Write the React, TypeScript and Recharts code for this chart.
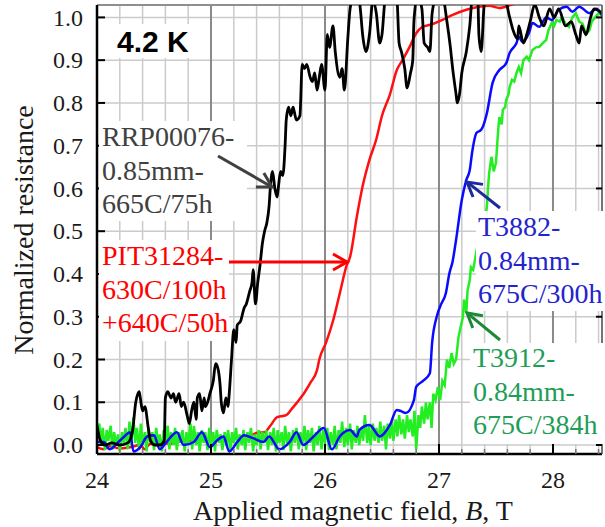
import React from 'react';
import { LineChart, Line, XAxis, YAxis, CartesianGrid, ReferenceLine } from 'recharts';

const SERIF = "'Liberation Serif', 'DejaVu Serif', 'Times New Roman', serif";
const SANS = "'Liberation Sans', Arial, sans-serif";

const X_DOMAIN: [number, number] = [24, 28.43];
const Y_DOMAIN: [number, number] = [-0.021, 1.029];
const X_MAJOR = [24, 25, 26, 27, 28];
const X_MINOR = [24, 24.2, 24.4, 24.6, 24.8, 25, 25.2, 25.4, 25.6, 25.8, 26, 26.2, 26.4, 26.6, 26.8, 27, 27.2, 27.4, 27.6, 27.8, 28, 28.2, 28.4];
const Y_TICKS = [0, 0.1, 0.2, 0.3, 0.4, 0.5, 0.6, 0.7, 0.8, 0.9, 1.0];

// RRP00076-0.85mm-665C/75h  [B (T), normalized R]
const rrp00076: [number, number][] = [
  [24.0, 0.045], [24.03, 0.01], [24.07, 0.0], [24.13, 0.005], [24.2, 0.0], [24.27, 0.005], [24.31, 0.03],
  [24.34, 0.1], [24.37, 0.125], [24.38, 0.11], [24.4, 0.08], [24.42, 0.09], [24.45, 0.04], [24.47, 0.01],
  [24.51, 0.0], [24.55, 0.0], [24.59, 0.01], [24.6, 0.11], [24.62, 0.125], [24.65, 0.11], [24.67, 0.12],
  [24.69, 0.1], [24.72, 0.12], [24.74, 0.09], [24.76, 0.1], [24.79, 0.07], [24.81, 0.05], [24.83, 0.08],
  [24.85, 0.1], [24.87, 0.06], [24.88, 0.11], [24.9, 0.12], [24.92, 0.08], [24.94, 0.11], [24.95, 0.09],
  [24.97, 0.1], [24.99, 0.12], [25.02, 0.15], [25.04, 0.19], [25.06, 0.18], [25.08, 0.14], [25.09, 0.1],
  [25.11, 0.075], [25.13, 0.11], [25.15, 0.09], [25.16, 0.12], [25.18, 0.2], [25.2, 0.27], [25.22, 0.24],
  [25.23, 0.28], [25.26, 0.29], [25.29, 0.32], [25.31, 0.33], [25.34, 0.36], [25.36, 0.38], [25.37, 0.41],
  [25.39, 0.33], [25.41, 0.38], [25.43, 0.42], [25.45, 0.47], [25.47, 0.5], [25.49, 0.52], [25.51, 0.56],
  [25.52, 0.6], [25.54, 0.64], [25.56, 0.6], [25.58, 0.58], [25.59, 0.6], [25.61, 0.64], [25.63, 0.63],
  [25.65, 0.7], [25.66, 0.76], [25.68, 0.79], [25.7, 0.77], [25.72, 0.79], [25.73, 0.78], [25.75, 0.76],
  [25.78, 0.77], [25.8, 0.89], [25.82, 0.88], [25.84, 0.89], [25.87, 0.86], [25.89, 0.85], [25.91, 0.87],
  [25.93, 0.83], [25.95, 0.86], [25.97, 0.89], [26.0, 0.83], [26.02, 0.96], [26.04, 0.93], [26.07, 0.98],
  [26.09, 0.92], [26.13, 0.86], [26.15, 0.88], [26.17, 0.83], [26.2, 0.95], [26.22, 1.02], [26.25, 1.05],
  [26.29, 1.06], [26.31, 1.02], [26.33, 0.96], [26.36, 0.92], [26.39, 0.96], [26.42, 1.04], [26.45, 1.01],
  [26.48, 0.94], [26.5, 0.96], [26.53, 1.05], [26.58, 1.08], [26.63, 1.05], [26.65, 0.94], [26.67, 0.92],
  [26.7, 0.88], [26.72, 0.835], [26.75, 0.87], [26.77, 0.9], [26.78, 0.99], [26.81, 1.05], [26.85, 1.02],
  [26.87, 0.94], [26.9, 0.93], [26.92, 0.92], [26.94, 1.01], [26.98, 1.05], [27.03, 1.05], [27.07, 0.99],
  [27.1, 0.93], [27.12, 0.88], [27.15, 0.82], [27.16, 0.8], [27.18, 0.82], [27.2, 0.87], [27.24, 0.92],
  [27.27, 0.98], [27.29, 1.04], [27.34, 1.05], [27.35, 0.96], [27.37, 0.92], [27.4, 1.04], [27.46, 1.06],
  [27.53, 1.04], [27.57, 1.05], [27.62, 1.0], [27.65, 0.97], [27.69, 0.95], [27.7, 0.98], [27.74, 0.94],
  [27.77, 0.96], [27.8, 0.99], [27.84, 1.03], [27.88, 1.0], [27.92, 0.98], [27.97, 1.02], [28.01, 1.0],
  [28.05, 1.02], [28.11, 0.98], [28.16, 0.99], [28.2, 0.96], [28.23, 0.94], [28.25, 0.98], [28.29, 0.96],
  [28.33, 1.0], [28.36, 1.02], [28.43, 1.01],
];

// PIT31284-630C/100h+640C/50h
const pit31284: [number, number][] = [
  [24.0, -0.005], [24.06, -0.01], [24.11, -0.003], [24.2, -0.008], [24.29, -0.005], [24.38, 0.0],
  [24.42, -0.01], [24.46, 0.002], [24.55, 0.005], [24.64, 0.003], [24.73, 0.008], [24.81, 0.01],
  [24.9, 0.012], [24.99, 0.015], [25.08, 0.012], [25.16, 0.012], [25.25, 0.018], [25.34, 0.022],
  [25.4, 0.028], [25.47, 0.03], [25.52, 0.045], [25.58, 0.065], [25.63, 0.068], [25.66, 0.07],
  [25.71, 0.085], [25.75, 0.098], [25.8, 0.115], [25.87, 0.145], [25.93, 0.175], [25.95, 0.2],
  [26.01, 0.24], [26.07, 0.29], [26.13, 0.355], [26.19, 0.42], [26.22, 0.44], [26.28, 0.535],
  [26.33, 0.605], [26.39, 0.667], [26.45, 0.715], [26.5, 0.77], [26.57, 0.82], [26.63, 0.877],
  [26.68, 0.9], [26.74, 0.93], [26.8, 0.963], [26.85, 0.977], [26.94, 0.984], [27.03, 0.994],
  [27.12, 1.006], [27.24, 1.018], [27.35, 1.025], [27.44, 1.027], [27.53, 1.022], [27.64, 1.03],
  [27.79, 1.04], [28.05, 1.05], [28.43, 1.05],
];

// T3882-0.84mm-675C/300h
const t3882: [number, number][] = [
  [24.0, 0.007], [24.06, 0.007], [24.11, -0.01], [24.18, 0.005], [24.24, 0.02], [24.29, 0.03],
  [24.32, -0.015], [24.38, -0.005], [24.44, 0.02], [24.5, 0.023], [24.55, -0.01], [24.61, 0.007],
  [24.7, 0.03], [24.76, 0.0], [24.85, 0.007], [24.92, 0.03], [24.99, -0.005], [25.05, 0.01],
  [25.11, 0.02], [25.16, -0.015], [25.23, 0.007], [25.29, 0.023], [25.37, 0.016], [25.46, 0.007],
  [25.51, 0.02], [25.6, -0.01], [25.69, 0.007], [25.75, 0.03], [25.81, 0.0], [25.9, 0.02],
  [25.99, 0.04], [26.06, -0.01], [26.13, 0.02], [26.22, 0.035], [26.28, 0.02], [26.3, 0.035],
  [26.39, 0.047], [26.48, 0.02], [26.57, 0.047], [26.63, 0.082], [26.66, 0.08], [26.71, 0.075],
  [26.78, 0.105], [26.8, 0.136], [26.86, 0.15], [26.92, 0.168], [26.94, 0.24], [26.98, 0.3],
  [27.02, 0.33], [27.06, 0.355], [27.09, 0.4], [27.12, 0.43], [27.15, 0.48], [27.2, 0.573],
  [27.24, 0.62], [27.27, 0.643], [27.29, 0.683], [27.33, 0.73], [27.37, 0.737], [27.42, 0.776],
  [27.47, 0.847], [27.53, 0.877], [27.59, 0.893], [27.62, 0.917], [27.68, 0.94], [27.7, 0.955],
  [27.73, 0.943], [27.79, 0.964], [27.82, 0.987], [27.88, 0.978], [27.94, 1.0], [27.99, 0.994],
  [28.05, 1.018], [28.12, 1.025], [28.17, 1.013], [28.23, 1.025], [28.32, 1.01], [28.38, 1.02],
  [28.43, 1.005],
];

// T3912-0.84mm-675C/384h
const t3912: [number, number][] = [
  [24.0, 0.03], [24.02, 0.05], [24.035, 0.0], [24.05, 0.04], [24.07, -0.012], [24.085, 0.035],
  [24.1, 0.01], [24.12, 0.045], [24.135, -0.01], [24.15, 0.03], [24.17, 0.0], [24.185, 0.025],
  [24.2, -0.015], [24.22, 0.03], [24.235, 0.005], [24.25, 0.04], [24.27, -0.01], [24.285, 0.055],
  [24.3, 0.0], [24.32, 0.065], [24.335, 0.005], [24.35, 0.04], [24.37, -0.012], [24.385, 0.05],
  [24.4, 0.0], [24.42, 0.03], [24.435, -0.015], [24.45, 0.035], [24.47, 0.005], [24.485, 0.03],
  [24.5, -0.012], [24.52, 0.04], [24.535, 0.0], [24.55, 0.025], [24.57, -0.015], [24.585, 0.035],
  [24.6, 0.005], [24.62, 0.045], [24.635, -0.01], [24.65, 0.03], [24.67, 0.0], [24.685, 0.04],
  [24.7, -0.012], [24.72, 0.03], [24.735, 0.005], [24.75, 0.035], [24.77, -0.015], [24.785, 0.03],
  [24.8, 0.0], [24.82, 0.05], [24.835, -0.01], [24.85, 0.045], [24.87, 0.0], [24.885, 0.03],
  [24.9, -0.015], [24.92, 0.035], [24.935, 0.005], [24.95, 0.03], [24.97, -0.012], [24.985, 0.04],
  [25.0, 0.0], [25.02, 0.03], [25.035, -0.015], [25.05, 0.035], [25.07, 0.005], [25.085, 0.025],
  [25.1, -0.012], [25.12, 0.03], [25.135, 0.0], [25.15, 0.035], [25.17, -0.015], [25.185, 0.03],
  [25.2, 0.005], [25.22, 0.04], [25.235, -0.01], [25.25, 0.025], [25.27, 0.0], [25.285, 0.035],
  [25.3, -0.012], [25.32, 0.03], [25.335, 0.005], [25.35, 0.04], [25.37, -0.015], [25.385, 0.025],
  [25.4, 0.0], [25.42, 0.035], [25.435, -0.01], [25.45, 0.03], [25.47, 0.005], [25.485, 0.035],
  [25.5, -0.012], [25.52, 0.03], [25.535, 0.0], [25.55, 0.04], [25.57, -0.015], [25.585, 0.035],
  [25.6, 0.005], [25.62, 0.03], [25.635, -0.012], [25.65, 0.045], [25.67, 0.0], [25.685, 0.03],
  [25.7, -0.015], [25.72, 0.035], [25.735, 0.005], [25.75, 0.04], [25.77, -0.01], [25.785, 0.03],
  [25.8, 0.0], [25.82, 0.045], [25.835, -0.012], [25.85, 0.035], [25.87, 0.005], [25.885, 0.04],
  [25.9, -0.015], [25.92, 0.03], [25.935, 0.0], [25.95, 0.045], [25.97, -0.01], [25.985, 0.035],
  [26.0, 0.005], [26.02, 0.04], [26.035, -0.012], [26.05, 0.03], [26.07, 0.0], [26.085, 0.045],
  [26.1, -0.01], [26.12, 0.035], [26.135, 0.005], [26.15, 0.055], [26.17, -0.005], [26.185, 0.04],
  [26.2, 0.0], [26.22, 0.05], [26.235, -0.01], [26.25, 0.035], [26.27, 0.005], [26.285, 0.045],
  [26.3, 0.0], [26.32, 0.04], [26.335, 0.01], [26.35, 0.07], [26.37, 0.005], [26.385, 0.045],
  [26.4, 0.0], [26.42, 0.05], [26.435, 0.01], [26.45, 0.04], [26.47, 0.005], [26.485, 0.055],
  [26.5, 0.01], [26.52, 0.045], [26.535, -0.01], [26.55, 0.05], [26.57, 0.015], [26.585, 0.055],
  [26.6, 0.01], [26.62, 0.06], [26.635, 0.02], [26.65, 0.07], [26.67, 0.025], [26.685, 0.06],
  [26.7, 0.015], [26.72, 0.07], [26.735, 0.03], [26.75, 0.06], [26.77, 0.02], [26.785, 0.08],
  [26.8, -0.01], [26.82, 0.07], [26.835, 0.04], [26.85, 0.09], [26.87, 0.05], [26.885, 0.1],
  [26.9, 0.06], [26.92, 0.1], [26.935, 0.04], [26.95, 0.12], [26.97, 0.105], [26.99, 0.136],
  [27.01, 0.105], [27.03, 0.15], [27.05, 0.14], [27.07, 0.2], [27.09, 0.18], [27.11, 0.215],
  [27.13, 0.19], [27.15, 0.2], [27.17, 0.25], [27.19, 0.276], [27.21, 0.3], [27.22, 0.34],
  [27.24, 0.31], [27.25, 0.36], [27.27, 0.386], [27.28, 0.416], [27.3, 0.41], [27.32, 0.44],
  [27.34, 0.47], [27.36, 0.46], [27.38, 0.5], [27.4, 0.52], [27.42, 0.557], [27.43, 0.6],
  [27.44, 0.636], [27.46, 0.674], [27.48, 0.64], [27.5, 0.66], [27.52, 0.74], [27.53, 0.767],
  [27.55, 0.75], [27.56, 0.784], [27.58, 0.79], [27.59, 0.807], [27.61, 0.82], [27.62, 0.837],
  [27.64, 0.854], [27.66, 0.85], [27.68, 0.87], [27.7, 0.884], [27.72, 0.87], [27.74, 0.9],
  [27.77, 0.908], [27.79, 0.9], [27.82, 0.924], [27.85, 0.93], [27.88, 0.931], [27.91, 0.94],
  [27.94, 0.947], [27.96, 0.97], [27.99, 0.987], [28.01, 0.98], [28.03, 0.994], [28.06, 0.99],
  [28.08, 1.001], [28.11, 0.985], [28.14, 0.978], [28.17, 1.0], [28.2, 1.01], [28.23, 0.99],
  [28.26, 0.985], [28.29, 0.96], [28.32, 0.97], [28.34, 0.99], [28.37, 1.0], [28.4, 1.01], [28.43, 1.005],
];

const rows = (pts: [number, number][]) => pts.map(([b, r]) => ({ b, r }));

const isMajor = (v: number) => X_MAJOR.some((t) => Math.abs(t - v) < 1e-6);

const serifStyle = { fontFamily: SERIF };
const sansStyle = { fontFamily: SANS };

const XTick = (props: any) => {
  const { x, y, payload } = props;
  const v = payload.value as number;
  const major = isMajor(v);
  return (
    <g>
      <line x1={x} x2={x} y1={y} y2={y - (major ? 10 : 5)} stroke={major ? '#000' : '#777'} strokeWidth={major ? 2 : 1.5} />
      {major && (
        <text x={x} y={y + 34} textAnchor="middle" style={serifStyle} fontSize={24} fill="#1a1a1a">
          {String(v)}
        </text>
      )}
    </g>
  );
};

const YTick = (props: any) => {
  const { x, y, payload } = props;
  const v = payload.value as number;
  return (
    <g>
      <line x1={x} x2={x + 8} y1={y} y2={y} stroke="#000" strokeWidth={2} />
      <text x={x - 14} y={y} dy="0.34em" textAnchor="end" style={serifStyle} fontSize={24} fill="#1a1a1a">
        {v.toFixed(1)}
      </text>
    </g>
  );
};

const RTick = (props: any) => {
  const { x, y } = props;
  return <line x1={x} x2={x - 6} y1={y} y2={y} stroke="#000" strokeWidth={2} />;
};

function Arrow({ x1, y1, x2, y2, color }: { x1: number; y1: number; x2: number; y2: number; color: string }) {
  const dx = x2 - x1;
  const dy = y2 - y1;
  const len = Math.hypot(dx, dy);
  const ux = dx / len;
  const uy = dy / len;
  const h = 14;
  const w = 8;
  const bx = x2 - ux * h;
  const by = y2 - uy * h;
  const p1 = `${bx - uy * w},${by + ux * w}`;
  const p2 = `${bx + uy * w},${by - ux * w}`;
  return (
    <g>
      <line x1={x1} y1={y1} x2={x2 - ux * 1.5} y2={y2 - uy * 1.5} stroke={color} strokeWidth={3} />
      <polyline points={`${p1} ${x2},${y2} ${p2}`} fill="none" stroke={color} strokeWidth={3} strokeLinejoin="miter" />
    </g>
  );
}

function TextBlock({ x, y, lines, color, box }: { x: number; y: number; lines: string[]; color: string; box: [number, number, number, number] }) {
  return (
    <g>
      <rect x={box[0]} y={box[1]} width={box[2]} height={box[3]} fill="#fff" />
      {lines.map((l, i) => (
        <text key={i} x={x} y={y + i * 33.5} style={serifStyle} fontSize={28} fill={color}>
          {l}
        </text>
      ))}
    </g>
  );
}

export default function App() {
  return (
    <div style={{ position: 'absolute', left: 0, top: 0, width: 605, height: 527, background: '#fff' }}>
      <LineChart width={605} height={527} margin={{ top: 5, right: 0, bottom: 0, left: 0 }}>
        <CartesianGrid stroke="#cbcbcb" strokeWidth={1.5} />
        {X_MAJOR.slice(1).map((v) => (
          <ReferenceLine key={v} x={v} stroke="#8a8a8a" strokeWidth={2} />
        ))}
        <ReferenceLine y={Y_DOMAIN[1]} stroke="#8f8f8f" strokeWidth={2} />
        <XAxis
          dataKey="b"
          type="number"
          domain={X_DOMAIN}
          ticks={X_MINOR}
          interval={0}
          allowDataOverflow
          height={73}
          tickSize={0}
          tickMargin={0}
          tickLine={false}
          axisLine={{ stroke: '#000', strokeWidth: 2.5 }}
          tick={(p: any) => <XTick {...p} />}
        />
        <YAxis
          type="number"
          domain={Y_DOMAIN}
          ticks={Y_TICKS}
          interval={0}
          allowDataOverflow
          width={97}
          tickSize={0}
          tickMargin={0}
          tickLine={false}
          axisLine={{ stroke: '#000', strokeWidth: 2.5 }}
          tick={(p: any) => <YTick {...p} />}
        />
        <YAxis
          yAxisId="right"
          orientation="right"
          type="number"
          domain={Y_DOMAIN}
          ticks={Y_TICKS}
          interval={0}
          allowDataOverflow
          width={3}
          tickSize={0}
          tickMargin={0}
          tickLine={false}
          axisLine={{ stroke: '#555', strokeWidth: 1.5 }}
          tick={(p: any) => <RTick {...p} />}
        />
        <Line data={rows(pit31284)} dataKey="r" type="monotone" stroke="#ff1010" strokeWidth={2.5} dot={false} isAnimationActive={false} />
        <Line data={rows(t3912)} dataKey="r" type="linear" stroke="#22ee22" strokeWidth={2.5} dot={false} isAnimationActive={false} />
        <Line data={rows(t3882)} dataKey="r" type="monotone" stroke="#0a0aff" strokeWidth={2.5} dot={false} isAnimationActive={false} />
        <Line data={rows(rrp00076)} dataKey="r" type="monotone" stroke="#000000" strokeWidth={2.8} dot={false} isAnimationActive={false} />
      </LineChart>
      <svg width={605} height={527} style={{ position: 'absolute', left: 0, top: 0, pointerEvents: 'none' }}>
        <rect x={108} y={24} width={92} height={34} fill="#fff" />
        <text x={117} y={52} style={sansStyle} fontWeight="bold" fontSize={30} fill="#000">4.2 K</text>

        <TextBlock x={102} y={146} lines={['RRP00076-', '0.85mm-', '665C/75h']} color="#404040" box={[99, 121, 148, 100]} />
        <Arrow x1={218} y1={156} x2={272} y2={187} color="#404040" />

        <TextBlock x={102} y={265} lines={['PIT31284-', '630C/100h', '+640C/50h']} color="#ff0000" box={[99, 240, 130, 101]} />
        <Arrow x1={229} y1={262} x2={347} y2={262} color="#ff0000" />

        <TextBlock x={478} y={236} lines={['T3882-', '0.84mm-', '675C/300h']} color="#2424cc" box={[476, 211, 129, 100]} />
        <Arrow x1={500} y1={208} x2={467} y2={182} color="#1d2a9e" />

        <TextBlock x={473} y={367} lines={['T3912-', '0.84mm-', '675C/384h']} color="#1e9e58" box={[470, 343, 135, 101]} />
        <Arrow x1={500} y1={340} x2={467} y2={313} color="#1a8a34" />

        <text x={33} y={230} transform="rotate(-90 33 230)" textAnchor="middle" style={serifStyle} fontSize={28} fill="#1a1a1a">
          Normalized resistance
        </text>
        <text x={353} y={520} textAnchor="middle" style={serifStyle} fontSize={28} fill="#1a1a1a">
          Applied magnetic field, <tspan fontStyle="italic">B</tspan>, T
        </text>
      </svg>
    </div>
  );
}
